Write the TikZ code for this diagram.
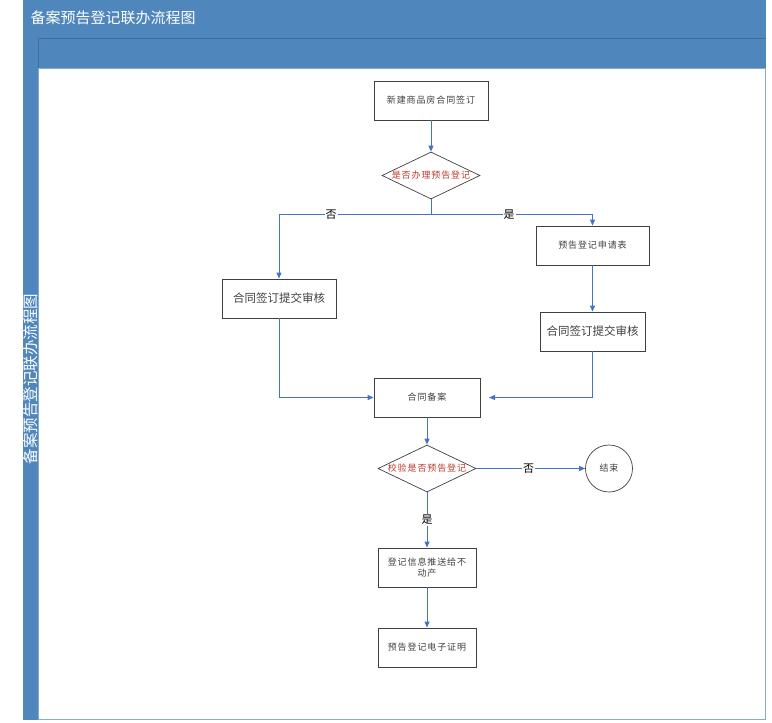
\documentclass[tikz,border=0pt]{standalone}
\usepackage{fontspec}
\setmainfont{Noto Sans CJK SC}
\newfontfamily\boxfont[LetterSpace=10]{Noto Sans CJK SC}
\usepackage{tikz}
\usetikzlibrary{arrows.meta}
\usetikzlibrary{shapes.geometric}
\definecolor{lanebar}{HTML}{4F86BC}
\definecolor{laneedge}{HTML}{3E6E9E}
\definecolor{flowline}{HTML}{4472C4}
\definecolor{boxline}{HTML}{404040}
\definecolor{asktext}{HTML}{C0392B}
\tikzset{
  stepbox/.style={draw=boxline,line width=0.8pt,fill=white,
    minimum width=#1,minimum height=39pt,inner sep=2pt,
    font=\boxfont\fontsize{9}{11}\selectfont,text=boxline,align=center},
  stepbox/.default=106pt,
  decision/.style={diamond,draw=boxline,line width=0.7pt,fill=white,
    minimum width=98pt,minimum height=47pt,inner sep=0pt},
  asklabel/.style={font=\boxfont\fontsize{9}{11}\selectfont,text=asktext},
  flow/.style={draw=flowline,line width=1pt,-{Triangle[length=6pt,width=5pt]}},
  branch/.style={fill=white,inner sep=1pt,font=\fontsize{11}{12}\selectfont}
}

\begin{document}
\begin{tikzpicture}[x=1pt,y=-1pt]
  \useasboundingbox (0,0) rectangle (772,723);
  % lane frame
  \fill[lanebar]
    (23,0) rectangle (766,38);
  \fill[lanebar]
    (23,38) rectangle (38,720);
  \fill[lanebar]
    (38,38) rectangle (766,68);
  \draw[laneedge,line width=0.6pt]
    (38,38) -- (766,38);
  \draw[laneedge,line width=0.6pt]
    (38,38) -- (38,720);
  \draw[lanebar!70,line width=1pt]
    (38,68) rectangle (765.5,719.5);
  \node[text=white,anchor=west,font=\fontsize{15}{16}\selectfont] (title)
    at (27,18) {备案预告登记联办流程图};
  \node[text=white,rotate=90,font=\fontsize{15.5}{16}\selectfont] (lanetitle)
    at (31,379) {备案预告登记联办流程图};

  % steps
  \node[stepbox=114pt] (sign) at (431,100.5) {新建商品房合同签订};
  \node[decision] (askreg) at (431,175.5) {};
  \node[asklabel] at (askreg.center) {是否办理预告登记};
  \node[stepbox=114pt,font=\fontsize{11.5}{13}\selectfont] (auditno)
    at (279,298.5) {合同签订提交审核};
  \node[stepbox=113pt] (apply) at (592.5,245.5) {预告登记申请表};
  \node[stepbox=105pt,font=\fontsize{11.5}{13}\selectfont] (audityes)
    at (592.5,331.5) {合同签订提交审核};
  \node[stepbox] (record) at (427,397.5) {合同备案};
  \node[decision] (check) at (427,468.5) {};
  \node[asklabel] at (check.center) {校验是否预告登记};
  \node[circle,draw=boxline,line width=0.7pt,minimum size=47pt,
    font=\boxfont\fontsize{9}{11}\selectfont,text=boxline] (finish)
    at (609,468.5) {结束};
  \node[stepbox=98pt] (push) at (427,567.5)
    {登记信息推送给不\\动产};
  \node[stepbox=98pt] (cert) at (427,647.5) {预告登记电子证明};
  \coordinate (recordin) at (489,397.5);

  % connectors
  \draw[flow]
    (sign.south) -- (askreg.north);
  \draw[flow]
    (askreg.south) |- (431,214.5) -| (auditno.north);
  \draw[flow]
    (askreg.south) |- (431,214.5) -| (apply.north);
  \node[branch] (nolabel) at (331,215) {否};
  \node[branch] (yeslabel) at (509,215) {是};
  \draw[flow]
    (apply.south) -- (audityes.north);
  \draw[flow]
    (auditno.south) |- (record.west);
  \draw[flow]
    (audityes.south) |- (recordin);
  \draw[flow]
    (record.south) -- (check.north);
  \draw[flow]
    (check.east) -- (finish.west)
    node[branch,pos=0.48] (nolabel2) {否};
  \draw[flow]
    (check.south) -- (push.north)
    node[branch,pos=0.5] (yeslabel2) {是};
  \draw[flow]
    (push.south) -- (cert.north);
\end{tikzpicture}
\end{document}
